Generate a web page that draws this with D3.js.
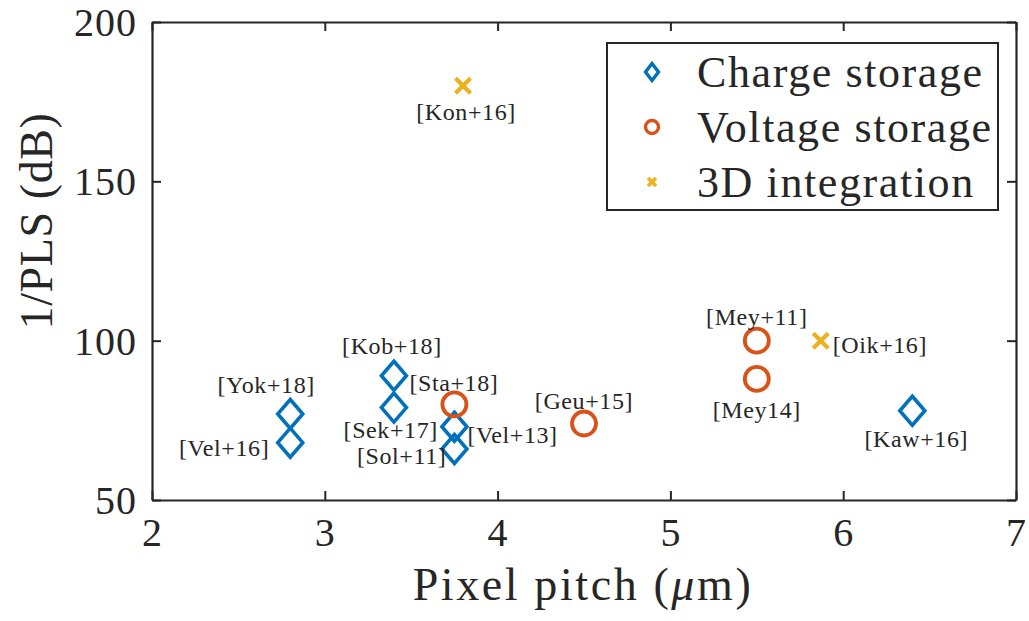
<!DOCTYPE html>
<html>
<head>
<meta charset="utf-8">
<script src="https://cdn.jsdelivr.net/npm/d3@7"></script>
<style>
  html, body { margin: 0; padding: 0; background: #fff; }
  svg { display: block; }
  text { font-family: "Liberation Serif", "Times New Roman", serif; fill: #262626; }
</style>
</head>
<body>
<svg id="chart" width="1029" height="621"></svg>
<script>
// Pixel pitch (µm) vs 1/PLS (dB) for published global-shutter pixels
const chargeLabels = ["Yok+18", "Vel+16", "Kob+18", "Sek+17", "Vel+13", "Sol+11", "Kaw+16"];
const chargePitch  = [2.8, 2.8, 3.4, 3.4, 3.75, 3.75, 6.4];
const chargePLS    = [77, 68, 89, 79, 73, 66, 78];

const voltageLabels = ["Sta+18", "Geu+15", "Mey+11", "Mey14"];
const voltagePitch  = [3.75, 4.5, 5.5, 5.5];
const voltagePLS    = [80, 74, 100, 88];

const stackedLabels = ["Kon+16", "Oik+16"];
const stackedPitch  = [3.8, 5.87];
const stackedPLS    = [180, 100];

const seriesNames = ["Charge storage", "Voltage storage", "3D integration"];
const xTicks = [2, 3, 4, 5, 6, 7];
const yTicks = [50, 100, 150, 200];

// Where each citation label sits relative to its marker: [anchor, dx, dy]
const labelPlacement = {
  "Yok+18": ["middle", -24, -21], "Vel+16": ["end", -21, 13],
  "Kob+18": ["middle", -2, -22],  "Sek+17": ["end", 44, 30],
  "Vel+13": ["start", 13, 16],    "Sol+11": ["end", -8, 15],
  "Kaw+16": ["middle", 4, 36],    "Sta+18": ["start", -45, -13],
  "Geu+15": ["middle", 0, -15],   "Mey+11": ["middle", 0, -16],
  "Mey14":  ["middle", 0, 39],    "Kon+16": ["middle", 3, 34],
  "Oik+16": ["start", 12, 12]
};

const colors = ["#0072BD", "#D95319", "#EDB120"];
const axisColor = "#262626";

const svg = d3.select("#chart");
const margin = { left: 152, right: 1029 - 1016, top: 22, bottom: 621 - 500 };
const W = 1029, H = 621;

const x = d3.scaleLinear().domain([2, 7]).range([margin.left, W - margin.right]);
const y = d3.scaleLinear().domain([50, 200]).range([H - margin.bottom, margin.top]);

const tickLen = 9;

// Axes: box with inward ticks on all four sides
const xAxisB = d3.axisBottom(x).tickValues(xTicks).tickSizeInner(-tickLen).tickSizeOuter(0).tickPadding(18).tickFormat(d3.format("d"));
const xAxisT = d3.axisTop(x).tickValues(xTicks).tickSizeInner(-tickLen).tickSizeOuter(0).tickFormat("");
const yAxisL = d3.axisLeft(y).tickValues(yTicks).tickSizeInner(-tickLen).tickSizeOuter(0).tickPadding(15).tickFormat(d3.format("d"));
const yAxisR = d3.axisRight(y).tickValues(yTicks).tickSizeInner(-tickLen).tickSizeOuter(0).tickFormat("");

function styleAxis(g) {
  g.selectAll(".domain").attr("stroke", axisColor).attr("stroke-width", 2.2);
  g.selectAll(".tick line").attr("stroke", axisColor).attr("stroke-width", 2);
  g.selectAll(".tick text").attr("fill", axisColor)
    .style("font-family", "'Liberation Serif', serif").style("font-size", "40px")
    .style("letter-spacing", "1px");
}

svg.append("g").attr("transform", `translate(0,${y(50)})`).call(xAxisB).call(styleAxis)
  .selectAll(".tick text").attr("dy", "0.71em");
svg.append("g").attr("transform", `translate(0,${y(200)})`).call(xAxisT).call(styleAxis);
svg.append("g").attr("transform", `translate(${x(2)},0)`).call(yAxisL).call(styleAxis)
  .selectAll(".tick text").attr("dy", "0.34em");
svg.append("g").attr("transform", `translate(${x(7)},0)`).call(yAxisR).call(styleAxis);

// Axis titles
const xTitle = svg.append("text")
  .attr("x", (x(2) + x(7)) / 2 - 1).attr("y", 600)
  .attr("text-anchor", "middle")
  .style("font-size", "46px").style("letter-spacing", "2.6px");
xTitle.append("tspan").text("Pixel pitch (");
xTitle.append("tspan").style("font-style", "italic").text("μ");
xTitle.append("tspan").text("m)");

svg.append("text")
  .attr("transform", `translate(52,221) rotate(-90)`)
  .attr("text-anchor", "middle")
  .style("font-size", "46px").style("letter-spacing", "0.6px")
  .text("1/PLS (dB)");

// Marker shapes
const diamondPath = (w, h) => `M0,${-h}L${w},0L0,${h}L${-w},0Z`;
const crossPath = s => `M${-s},${-s}L${s},${s}M${-s},${s}L${s},${-s}`;

function drawMarkers(pitch, pls, kind, color) {
  const g = svg.append("g");
  const pts = pitch.map((p, i) => [x(p), y(pls[i])]);
  if (kind === "diamond") {
    g.selectAll("path").data(pts).join("path")
      .attr("transform", d => `translate(${d[0]},${d[1]})`)
      .attr("d", diamondPath(12.5, 14.5))
      .attr("fill", "none").attr("stroke", color).attr("stroke-width", 3.6)
      .attr("stroke-linejoin", "miter");
  } else if (kind === "circle") {
    g.selectAll("circle").data(pts).join("circle")
      .attr("cx", d => d[0]).attr("cy", d => d[1]).attr("r", 12)
      .attr("fill", "none").attr("stroke", color).attr("stroke-width", 3.8);
  } else {
    g.selectAll("path").data(pts).join("path")
      .attr("transform", d => `translate(${d[0]},${d[1]})`)
      .attr("d", crossPath(7.5))
      .attr("fill", "none").attr("stroke", color).attr("stroke-width", 4.2);
  }
}

function drawLabels(pitch, pls, labels) {
  svg.append("g").selectAll("text").data(labels).join("text")
    .attr("x", (d, i) => x(pitch[i]) + labelPlacement[d][1])
    .attr("y", (d, i) => y(pls[i]) + labelPlacement[d][2])
    .attr("text-anchor", d => labelPlacement[d][0])
    .style("font-size", "24px").style("letter-spacing", "0.6px")
    .text(d => `[${d}]`);
}

drawMarkers(chargePitch, chargePLS, "diamond", colors[0]);
drawMarkers(voltagePitch, voltagePLS, "circle", colors[1]);
drawMarkers(stackedPitch, stackedPLS, "cross", colors[2]);
drawLabels(chargePitch, chargePLS, chargeLabels);
drawLabels(voltagePitch, voltagePLS, voltageLabels);
drawLabels(stackedPitch, stackedPLS, stackedLabels);

// Legend
const legend = svg.append("g");
legend.append("rect")
  .attr("x", 607).attr("y", 43).attr("width", 391).attr("height", 167)
  .attr("fill", "#fff").attr("stroke", axisColor).attr("stroke-width", 2);

const rowY = [72, 127, 182];
seriesNames.forEach((name, i) => {
  const cx = 652, cy = rowY[i];
  if (i === 0) {
    legend.append("path").attr("transform", `translate(${cx},${cy})`)
      .attr("d", diamondPath(6.5, 8.5)).attr("fill", "none")
      .attr("stroke", colors[0]).attr("stroke-width", 3.4);
  } else if (i === 1) {
    legend.append("circle").attr("cx", cx).attr("cy", cy).attr("r", 6.5)
      .attr("fill", "none").attr("stroke", colors[1]).attr("stroke-width", 3.4);
  } else {
    legend.append("path").attr("transform", `translate(${cx},${cy})`)
      .attr("d", crossPath(4)).attr("fill", "none")
      .attr("stroke", colors[2]).attr("stroke-width", 3.6);
  }
  legend.append("text").attr("x", 697).attr("y", cy).attr("dy", "0.33em")
    .style("font-size", "44px").style("letter-spacing", "1.6px")
    .text(name);
});
</script>
</body>
</html>
